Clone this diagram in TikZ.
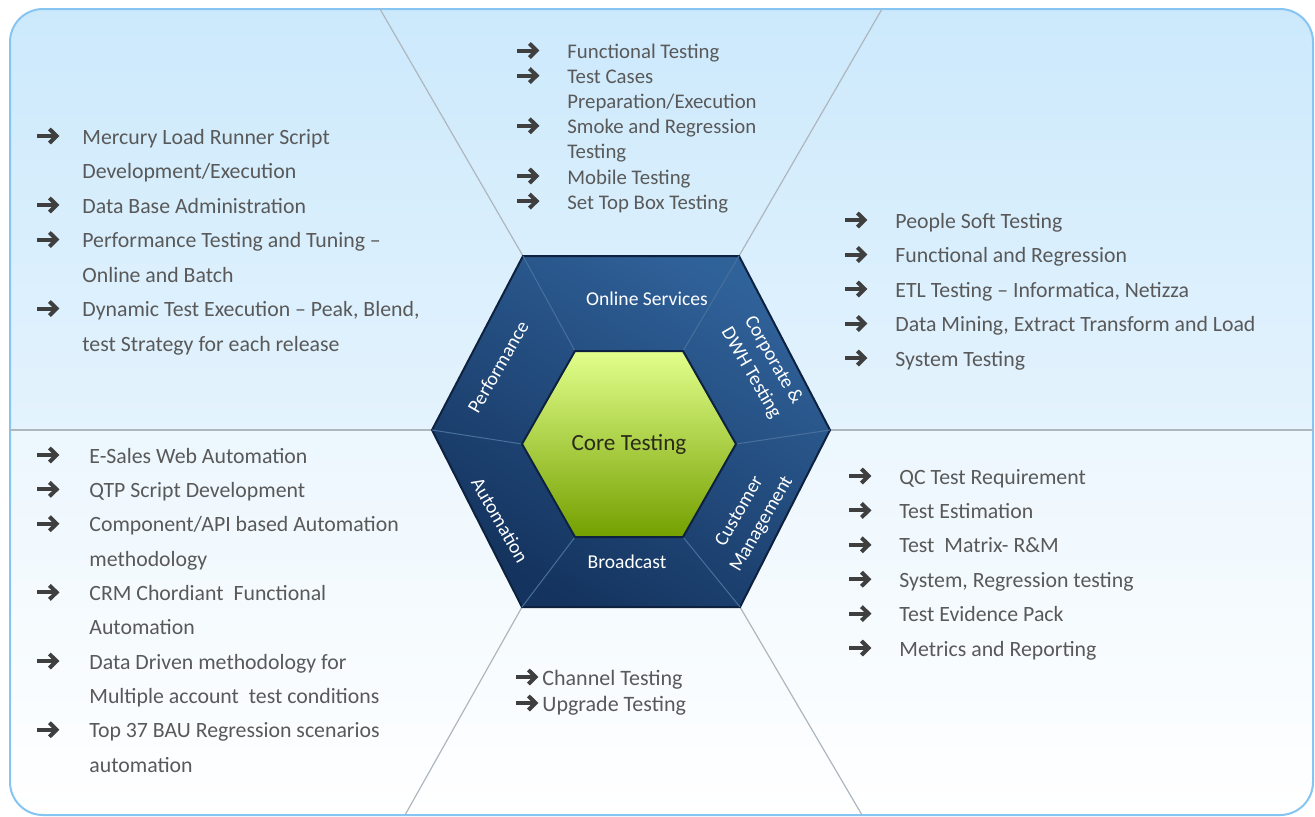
\documentclass[tikz,border=0pt]{standalone}
\usepackage{fontspec}
\setmainfont{Carlito}

\definecolor{skyblue}{HTML}{CCE9FC}
\definecolor{paleblue}{HTML}{E4F3FD}
\definecolor{frameblue}{HTML}{86C4F2}
\definecolor{rayline}{HTML}{AEB6BE}
\definecolor{txtgrey}{HTML}{595959}
\definecolor{arrgrey}{HTML}{3F3F3F}
\definecolor{hexdark}{HTML}{14335E}
\definecolor{hexlight}{HTML}{30629A}
\definecolor{hexedge}{HTML}{0E2240}
\definecolor{hexseam}{HTML}{48709C}
\definecolor{limetop}{HTML}{E2FF8C}
\definecolor{limebot}{HTML}{74A000}
\definecolor{coretext}{HTML}{2B2B1A}

\newlength\arrgap
\newcommand\arr{\tikz[x=1pt,y=1pt,baseline=-4pt]{%
  \draw[arrgrey, line width=2pt] (0,0) -- (8.6,0);
  \draw[arrgrey, line width=2pt, miter limit=3] (6,3.5) -- (9.6,0) -- (6,-3.5);}}
\newcommand\itm{\makebox[\arrgap][l]{\arr}}
\newcommand\cnt{\hspace*{\arrgap}}
\newcommand\listfont[3]{\fontsize{#1}{#2}\selectfont\setlength\arrgap{#3}}

\begin{document}
\begin{tikzpicture}[x=0.5pt,y=-0.5pt]

% definitions
\tikzstyle{ray} = [draw=rayline, line width=0.6pt]
\tikzstyle{seam} = [draw=hexseam, line width=0.5pt]
\tikzstyle{itemlist} = [anchor=base west, inner sep=0pt, text=txtgrey]
\tikzstyle{seglabel} = [inner sep=0pt, text=white, font=\fontsize{9.8}{12.8}\selectfont, align=center]

% background panel
\useasboundingbox (0,0) rectangle (1315,816);
\begin{scope}
\clip[rounded corners=16.5pt] (10,9) rectangle (1313,815);
\shade[top color=skyblue, middle color=skyblue, bottom color=paleblue] (10,9) rectangle (1313,430);
\shade[top color=paleblue!70!white, bottom color=white] (10,430) rectangle (1313,815);
\end{scope}
\draw[frameblue, line width=1pt, rounded corners=16.5pt] (10,9) rectangle (1313,815);

% hexagon corners
\coordinate (o1) at (523,256);
\coordinate (o2) at (739,256);
\coordinate (o3) at (830,430);
\coordinate (o4) at (740,607);
\coordinate (o5) at (522,607);
\coordinate (o6) at (432,430);
\coordinate (i1) at (575,351);
\coordinate (i2) at (683,351);
\coordinate (i3) at (736,444);
\coordinate (i4) at (683,537);
\coordinate (i5) at (575,537);
\coordinate (i6) at (522,444);

% ends of the rays on the panel edge
\coordinate (e1) at (380,9);
\coordinate (e2) at (882,9);
\coordinate (e3) at (1313,430);
\coordinate (e4) at (862,815);
\coordinate (e5) at (405,815);
\coordinate (e6) at (10,430);

\draw [ray] (o1) -- (e1);
\draw [ray] (o2) -- (e2);
\draw [ray] (o3) -- (e3);
\draw [ray] (o4) -- (e4);
\draw [ray] (o5) -- (e5);
\draw [ray] (o6) -- (e6);

% the hexagons
\path[draw=hexedge, line width=1pt, top color=hexlight, bottom color=hexdark, shading angle=-30]
  (o1) -- (o2) -- (o3) -- (o4) -- (o5) -- (o6) -- cycle;
\draw [seam] (i1) -- (o1);
\draw [seam] (i2) -- (o2);
\draw [seam] (i3) -- (o3);
\draw [seam] (i4) -- (o4);
\draw [seam] (i5) -- (o5);
\draw [seam] (i6) -- (o6);
\path[draw=hexedge, line width=1pt, top color=limetop, bottom color=limebot]
  (i1) -- (i2) -- (i3) -- (i4) -- (i5) -- (i6) -- cycle;

\node (core) [inner sep=0pt, text=coretext, font=\fontsize{11.6}{14}\selectfont] at (629,444) {Core Testing};

\node (lonline) [seglabel] at (647,299) {Online Services};
\node (lbroad) [seglabel] at (627,562) {Broadcast};
\node (lperf) [seglabel, rotate=60] at (498,367) {Performance};
\node (lcorp) [seglabel, rotate=-60] at (762,367) {Corporate \&\\DWH Testing};
\node (lcust) [seglabel, rotate=60] at (751,518) {Customer\\Management};
\node (lauto) [seglabel, rotate=-60] at (500,520) {Automation};

% the lists
\node (perf) [itemlist, font={\listfont{10.9}{17.25}{23.5pt}}] at (35,144) {\begin{tabular}[t]{@{}l@{}}
\itm Mercury Load Runner Script\\
\cnt Development/Execution\\
\itm Data Base Administration\\
\itm Performance Testing and Tuning –\\
\cnt Online and Batch\\
\itm Dynamic Test Execution – Peak, Blend,\\
\cnt test Strategy for each release
\end{tabular}};

\node (online) [itemlist, font={\listfont{10.4}{12.55}{26pt}}] at (515,58.5) {\begin{tabular}[t]{@{}l@{}}
\itm Functional Testing\\
\itm Test Cases\\
\cnt Preparation/Execution\\
\itm Smoke and Regression\\
\cnt Testing\\
\itm Mobile Testing\\
\itm Set Top Box Testing
\end{tabular}};

\node (corp) [itemlist, font={\listfont{10.9}{17.25}{26pt}}] at (843,228) {\begin{tabular}[t]{@{}l@{}}
\itm People Soft Testing\\
\itm Functional and Regression\\
\itm ETL Testing – Informatica, Netizza\\
\itm Data Mining, Extract Transform and Load\\
\itm System Testing
\end{tabular}};

\node (auto) [itemlist, font={\listfont{10.9}{17.17}{27pt}}] at (35,463) {\begin{tabular}[t]{@{}l@{}}
\itm E-Sales Web Automation\\
\itm QTP Script Development\\
\itm Component/API based Automation\\
\cnt methodology\\
\itm CRM Chordiant\ \ Functional\\
\cnt Automation\\
\itm Data Driven methodology for\\
\cnt Multiple account\ \ test conditions\\
\itm Top 37 BAU Regression scenarios\\
\cnt automation
\end{tabular}};

\node (cust) [itemlist, font={\listfont{10.9}{17.2}{26pt}}] at (847,484) {\begin{tabular}[t]{@{}l@{}}
\itm QC Test Requirement\\
\itm Test Estimation\\
\itm Test\ \ Matrix- R\&M\\
\itm System, Regression testing\\
\itm Test Evidence Pack\\
\itm Metrics and Reporting
\end{tabular}};

\node (broad) [itemlist, font={\listfont{11}{13}{14pt}}] at (514,685) {\begin{tabular}[t]{@{}l@{}}
\itm Channel Testing\\
\itm Upgrade Testing
\end{tabular}};

\end{tikzpicture}
\end{document}
